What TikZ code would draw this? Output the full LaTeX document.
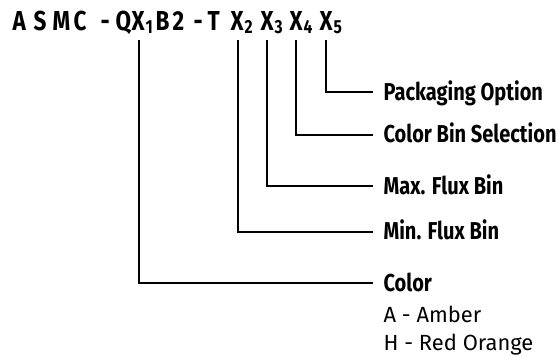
\documentclass[tikz,border=0pt]{standalone}
\usepackage{fontspec}
\setmainfont{Fira Sans}
\newfontfamily\cond[FakeStretch=0.82]{Fira Sans}
\newcommand{\xsub}[1]{X\kern1bp\raisebox{-3.5bp}{\fontsize{19}{19}\selectfont #1}}
\begin{document}
\begin{tikzpicture}[x=1bp,y=-1bp,line width=1.2bp,
  ttl/.style={inner sep=0,anchor=base west,font=\cond\bfseries\fontsize{27.5}{27.5}\selectfont},
  lbl/.style={inner sep=0,anchor=base west,font=\cond\bfseries\fontsize{24.5}{24.5}\selectfont},
  sub/.style={inner sep=0,anchor=base west,font=\fontsize{22}{22}\selectfont},
  conn/.style={draw=black,line width=1.2bp}]
\useasboundingbox (0,0) rectangle (558,356);
% title
\node[ttl] (tA) at (12,30) {A};
\node[ttl] (tS) at (33,30) {S};
\node[ttl] (tM) at (52,30) {M};
\node[ttl] (tC) at (73,30) {C};
\node[ttl] (td1) at (100,30) {-};
\node[ttl] (tQ) at (115,30) {Q};
\node[ttl] (x1) at (131,30) {\xsub{1}};
\node[ttl] (tB) at (155,30) {B};
\node[ttl] (t2) at (172,30) {2};
\node[ttl] (td2) at (193,30) {-};
\node[ttl] (tT) at (207,30) {T};
\node[ttl] (x2) at (230,30) {\xsub{2}};
\node[ttl] (x3) at (260,30) {\xsub{3}};
\node[ttl] (x4) at (289,30) {\xsub{4}};
\node[ttl] (x5) at (319,30) {\xsub{5}};
% labels
\node[lbl] (l5) at (383,100) {Packaging Option};
\node[lbl] (l4) at (383,142) {Color Bin Selection};
\node[lbl] (l3) at (383,194) {Max. Flux Bin};
\node[lbl] (l2) at (383,239) {Min. Flux Bin};
\node[lbl] (l1) at (383,291) {Color};
\node[sub] (s1) at (383,322) {A - Amber};
\node[sub] (s2) at (383,350) {H - Red Orange};
% line ends
\coordinate (e5) at (373,92);
\coordinate (e4) at (373,135);
\coordinate (e3) at (373,186);
\coordinate (e2) at (373,232);
\coordinate (e1) at (373,283);
\coordinate (v1) at (139,40);
\coordinate (v2) at (238,40);
\coordinate (v3) at (267,40);
\coordinate (v4) at (296,40);
\coordinate (v5) at (326,40);
\draw[conn] (v5) |- (e5);
\draw[conn] (v4) |- (e4);
\draw[conn] (v3) |- (e3);
\draw[conn] (v2) |- (e2);
\draw[conn] (v1) |- (e1);
\end{tikzpicture}
\end{document}
